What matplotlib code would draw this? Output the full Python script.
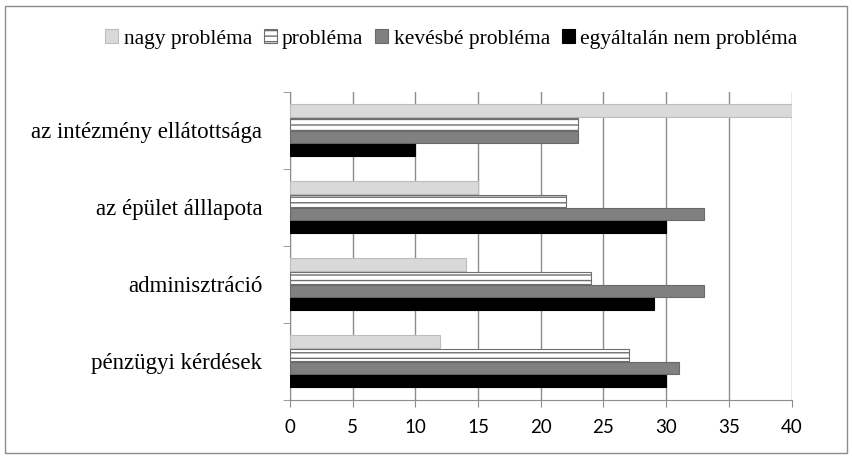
import numpy as np
import matplotlib.pyplot as plt
from matplotlib.patches import Rectangle

# categories from bottom to top
categories = ['pénzügyi kérdések', 'adminisztráció', 'az épület álllapota', 'az intézmény ellátottsága']
series = ['nagy probléma', 'probléma', 'kevésbé probléma', 'egyáltalán nem probléma']
nagy = [12, 14, 15, 40]
problema = [27, 24, 22, 23]
kevesbe = [31, 33, 33, 23]
egyaltalan = [30, 29, 30, 10]
xticks = [0, 5, 10, 15, 20, 25, 30, 35, 40]

values = [nagy, problema, kevesbe, egyaltalan]
faces = ['#d9d9d9', 'white', '#808080', '#000000']
edges = ['#bdbdbd', '#6e6e6e', '#6a6a6a', '#000000']
hatches = [None, '---', None, None]

plt.rcParams['hatch.color'] = '#6e6e6e'
fig = plt.figure(figsize=(8.53, 4.59), dpi=100)
fig.patches.append(Rectangle((0.006, 0.013), 0.987, 0.975, transform=fig.transFigure,
                             fill=False, edgecolor='#8c8c8c', linewidth=1.0))
ax = fig.add_axes([0.340, 0.129, 0.588, 0.671])

y = np.arange(len(categories))
h = 0.17
offsets = [1.5 * h, 0.5 * h, -0.5 * h, -1.5 * h]
bars = []
for vals, off, fc, ec, ht, name in zip(values, offsets, faces, edges, hatches, series):
    b = ax.barh(y + off, vals, height=h * 0.95, color=fc, edgecolor=ec, hatch=ht,
                linewidth=0.8, label=name, zorder=3)
    bars.append(b)

ax.set_xlim(0, 40)
ax.set_ylim(-0.5, len(categories) - 0.5)
ax.set_xticks(xticks)
ax.set_xticklabels([str(t) for t in xticks], fontsize=13.5, family='Lato')
ax.set_yticks(y)
ax.set_yticklabels(categories, fontsize=16.5, family='Liberation Serif')
ax.set_yticks(np.arange(len(categories) + 1) - 0.5, minor=True)
ax.tick_params(axis='y', which='major', length=0, pad=20)
ax.tick_params(axis='y', which='minor', length=5, color='#8c8c8c')
ax.tick_params(axis='x', length=5, color='#8c8c8c', pad=9)
ax.grid(axis='x', color='#8c8c8c', linewidth=1.0, zorder=0)
for s in ['top', 'right']:
    ax.spines[s].set_visible(False)
for s in ['left', 'bottom']:
    ax.spines[s].set_color('#8c8c8c')

leg = fig.legend(handles=bars, labels=series, loc='center', bbox_to_anchor=(0.529, 0.915),
                 ncol=4, frameon=False, handlelength=0.6, handleheight=0.6,
                 handletextpad=0.25, columnspacing=0.55,
                 prop={'family': 'Liberation Serif', 'size': 15.5})

fig.savefig('out.png', dpi=100)
